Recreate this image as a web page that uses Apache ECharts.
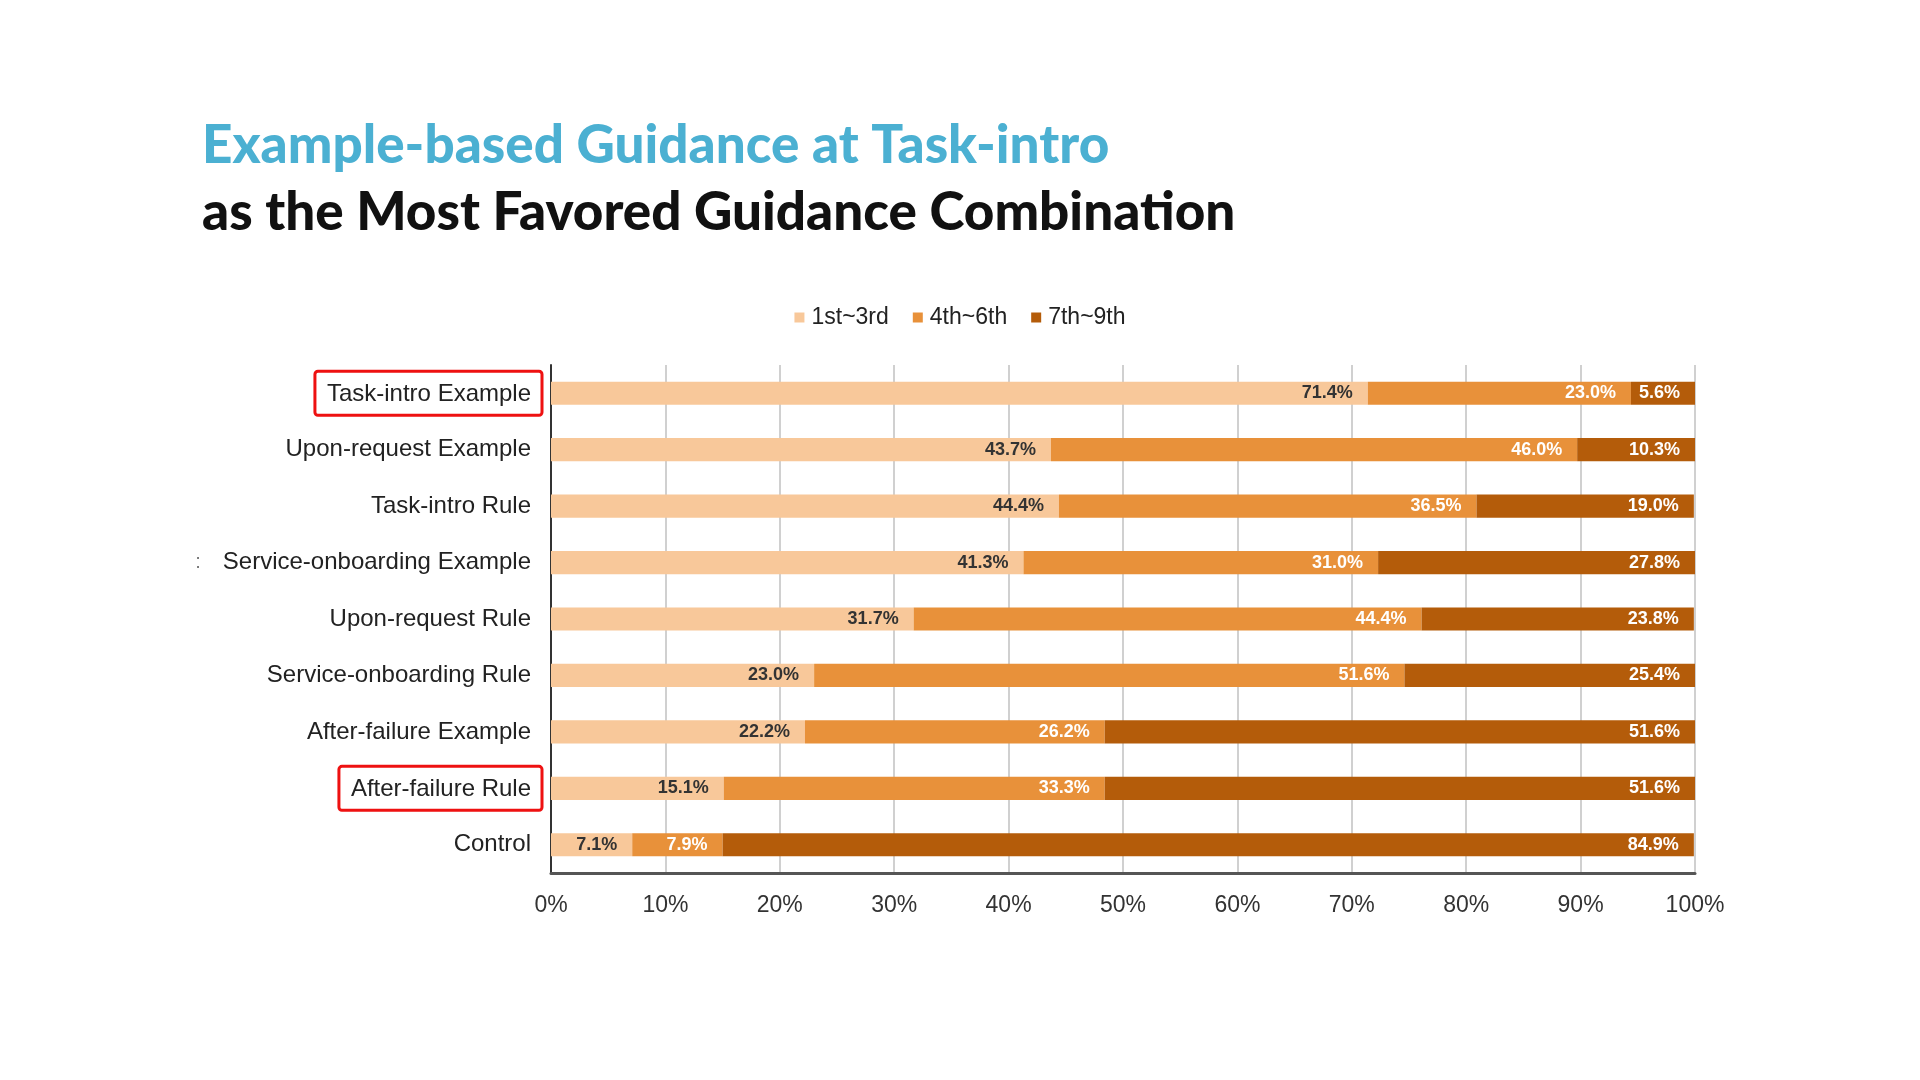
<!DOCTYPE html>
<html>
<head>
<meta charset="utf-8">
<script src="https://cdn.jsdelivr.net/npm/echarts@6/dist/echarts.min.js"></script>
<style>
html,body{margin:0;padding:0;background:#fff;}
#chart{width:1920px;height:1080px;}
</style>
</head>
<body>
<div id="chart"></div>
<script>
const categories = [
  'Task-intro Example',
  'Upon-request Example',
  'Task-intro Rule',
  'Service-onboarding Example',
  'Upon-request Rule',
  'Service-onboarding Rule',
  'After-failure Example',
  'After-failure Rule',
  'Control'
];
const highlighted = ['Task-intro Example', 'After-failure Rule'];
const seriesNames = ['1st~3rd', '4th~6th', '7th~9th'];
const rank1to3 = [71.4, 43.7, 44.4, 41.3, 31.7, 23.0, 22.2, 15.1, 7.1];
const rank4to6 = [23.0, 46.0, 36.5, 31.0, 44.4, 51.6, 26.2, 33.3, 7.9];
const rank7to9 = [5.6, 10.3, 19.0, 27.8, 23.8, 25.4, 51.6, 51.6, 84.9];
const xTicks = [0, 10, 20, 30, 40, 50, 60, 70, 80, 90, 100];
const titleLine1 = 'Example-based Guidance at Task-intro';
const titleLine2 = 'as the Most Favored Guidance Combination';

const colors = ['#F8C89A', '#E8913A', '#B45C0A'];
const labelColors = ['#333333', '#ffffff', '#ffffff'];
const FONT = "'Liberation Sans', Arial, sans-serif";

const chart = echarts.init(document.getElementById('chart'));

function makeSeries(name, data, i) {
  return {
    name: name,
    type: 'bar',
    stack: 'total',
    barWidth: '41%',
    data: data,
    itemStyle: { color: colors[i] },
    label: {
      show: true,
      position: 'insideRight',
      offset: [-10, 0],
      color: labelColors[i],
      fontFamily: FONT,
      fontWeight: 'bold',
      fontSize: 18,
      formatter: p => p.value.toFixed(1) + '%'
    }
  };
}

chart.setOption({
  backgroundColor: '#ffffff',
  animation: false,
  color: colors,
  title: [
    {
      text: titleLine1,
      left: 197, top: 114,
      textStyle: { color: '#4BB0D2', fontFamily: 'Lato', fontWeight: 900, fontSize: 53, letterSpacing: 0.4 }
    },
    {
      text: titleLine2,
      left: 197, top: 181,
      textStyle: { color: '#111111', fontFamily: 'Lato', fontWeight: 900, fontSize: 53 }
    }
  ],
  legend: {
    data: seriesNames,
    left: 'center',
    top: 301,
    icon: 'rect',
    itemWidth: 10,
    itemHeight: 10,
    itemGap: 24,
    textStyle: { fontFamily: FONT, fontSize: 23, color: '#222222', padding: [0, 0, 0, 2] }
  },
  grid: { left: 551, right: 225, top: 365, bottom: 207, containLabel: false },
  xAxis: {
    type: 'value',
    min: 0, max: 100, interval: 10,
    axisLine: { show: true, lineStyle: { color: '#555555', width: 3 } },
    axisTick: { show: false },
    splitLine: { show: true, lineStyle: { color: '#d0d0d0', width: 2 } },
    axisLabel: {
      margin: 21,
      fontFamily: FONT,
      fontSize: 23,
      color: '#333333',
      formatter: v => (xTicks.indexOf(v) >= 0 ? v + '%' : '')
    }
  },
  yAxis: {
    type: 'category',
    inverse: true,
    data: categories,
    axisLine: { show: true, lineStyle: { color: '#333333', width: 2 } },
    axisTick: { show: false },
    axisLabel: {
      margin: 9,
      fontFamily: FONT,
      fontSize: 24,
      color: '#222222',
      formatter: v => {
        if (highlighted.indexOf(v) >= 0) return '{box|' + v + '}';
        if (v === 'Service-onboarding Example') return '{c|:}{n|' + v + '}';
        return '{n|' + v + '}';
      },
      rich: {
        n: { fontFamily: FONT, fontSize: 24, color: '#222222', padding: [0, 11, 0, 0] },
        c: { fontFamily: FONT, fontSize: 20, color: '#777777', padding: [0, 22, 0, 0] },
        box: {
          fontFamily: FONT, fontSize: 24, color: '#222222',
          borderColor: '#EE1111', borderWidth: 3, borderRadius: 3,
          padding: [11, 11, 9, 12]
        }
      }
    }
  },
  series: [
    makeSeries(seriesNames[0], rank1to3, 0),
    makeSeries(seriesNames[1], rank4to6, 1),
    makeSeries(seriesNames[2], rank7to9, 2)
  ]
});
</script>
</body>
</html>
